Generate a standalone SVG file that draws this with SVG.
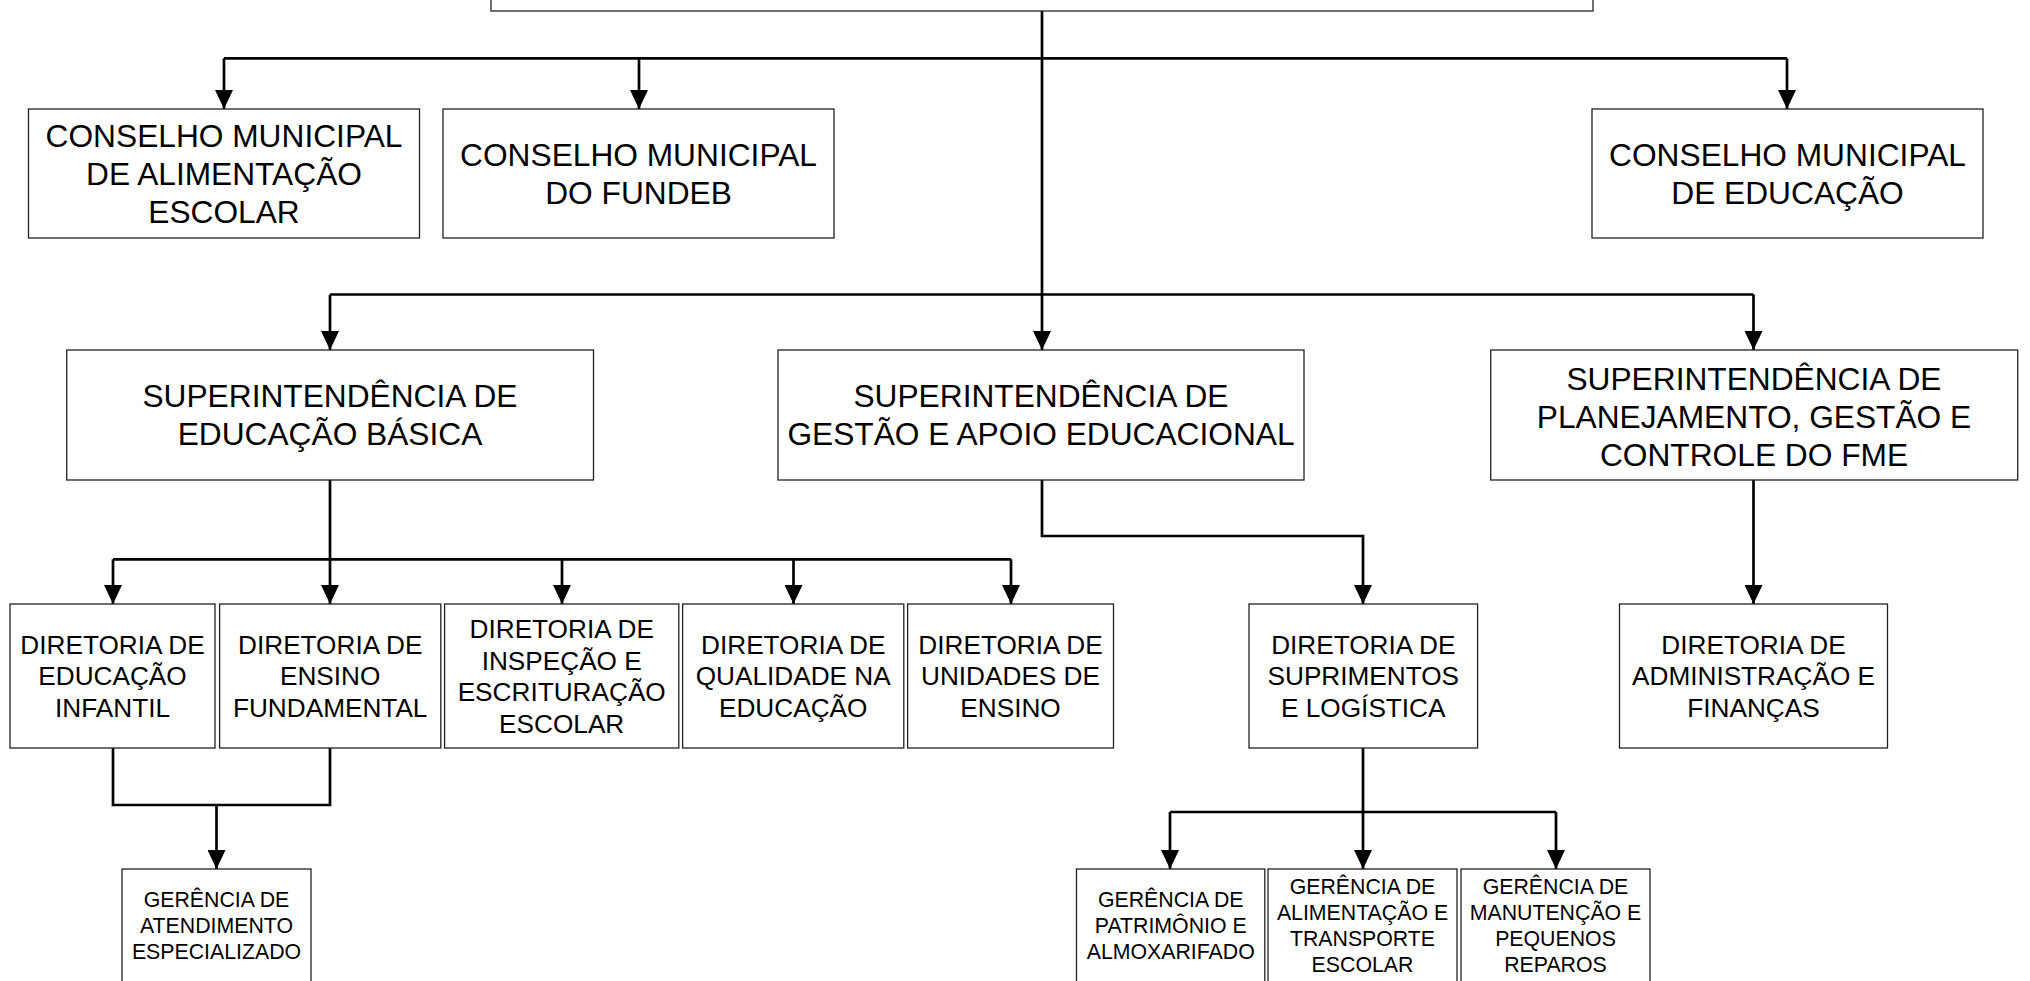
<svg xmlns="http://www.w3.org/2000/svg" width="2030" height="981" viewBox="0 0 2030 981">
<style>
.box{fill:#fff;stroke:#222;stroke-width:1.3}
.t1{font-family:"Liberation Sans",Arial,sans-serif;font-size:31.7px;fill:#000;text-anchor:middle}
.t3{font-family:"Liberation Sans",Arial,sans-serif;font-size:26.2px;fill:#000;text-anchor:middle}
.t4{font-family:"Liberation Sans",Arial,sans-serif;font-size:21.3px;fill:#000;text-anchor:middle}
.c{fill:none;stroke:#000;stroke-width:2.7}
.ca{fill:none;stroke:#000;stroke-width:2.7;marker-end:url(#arr)}
</style>
<defs>
<marker id="arr" markerUnits="userSpaceOnUse" markerWidth="20" markerHeight="18" refX="19" refY="9" orient="auto" viewBox="0 0 20 18">
<path d="M0,0 L19,9 L0,18 z" fill="#000"/>
</marker>
</defs>
<rect width="2030" height="981" fill="#fff"/>

<g id="connectors">
<path class="ca" d="M1042,11 V350"/>
<path class="c" d="M224,58.3 H1787"/>
<path class="ca" d="M224,58.3 V109"/>
<path class="ca" d="M639,58.3 V109"/>
<path class="ca" d="M1787,58.3 V109"/>
<path class="c" d="M330,294.5 H1753.5"/>
<path class="ca" d="M330,294.5 V350"/>
<path class="ca" d="M1753.5,294.5 V350"/>
<path class="ca" d="M330,480 V604"/>
<path class="c" d="M113,559.3 H1011"/>
<path class="ca" d="M113,559.3 V604"/>
<path class="ca" d="M562,559.3 V604"/>
<path class="ca" d="M793.5,559.3 V604"/>
<path class="ca" d="M1011,559.3 V604"/>
<path class="ca" d="M1042,480 V536 H1363 V604"/>
<path class="ca" d="M1753.5,480 V604"/>
<path class="c" d="M113,748 V805 H330 V748"/>
<path class="ca" d="M216.5,805 V869"/>
<path class="ca" d="M1363,748 V869"/>
<path class="c" d="M1170,812 H1556"/>
<path class="ca" d="M1170,812 V869"/>
<path class="ca" d="M1556,812 V869"/>
</g>

<g id="root"><rect class="box" x="491" y="-50" width="1102" height="61"/></g>

<g id="cmae"><rect class="box" x="28.5" y="109" width="391" height="129"/>
<text class="t1" x="224" y="146.7">CONSELHO MUNICIPAL</text>
<text class="t1" x="224" y="184.7">DE ALIMENTAÇÃO</text>
<text class="t1" x="224" y="222.7">ESCOLAR</text></g>

<g id="cmf"><rect class="box" x="443" y="109" width="391" height="129"/>
<text class="t1" x="638.5" y="165.8">CONSELHO MUNICIPAL</text>
<text class="t1" x="638.5" y="203.8">DO FUNDEB</text></g>

<g id="cme"><rect class="box" x="1592" y="109" width="391" height="129"/>
<text class="t1" x="1787.5" y="165.8">CONSELHO MUNICIPAL</text>
<text class="t1" x="1787.5" y="203.8">DE EDUCAÇÃO</text></g>

<g id="seb"><rect class="box" x="66.7" y="350" width="526.8" height="130"/>
<text class="t1" x="330" y="407.4">SUPERINTENDÊNCIA DE</text>
<text class="t1" x="330" y="445.4">EDUCAÇÃO BÁSICA</text></g>

<g id="sgae"><rect class="box" x="778" y="350" width="526" height="130"/>
<text class="t1" x="1041" y="407.4">SUPERINTENDÊNCIA DE</text>
<text class="t1" x="1041" y="445.4">GESTÃO E APOIO EDUCACIONAL</text></g>

<g id="spg"><rect class="box" x="1490.7" y="350" width="527" height="130"/>
<text class="t1" x="1754" y="390">SUPERINTENDÊNCIA DE</text>
<text class="t1" x="1754" y="428">PLANEJAMENTO, GESTÃO E</text>
<text class="t1" x="1754" y="466">CONTROLE DO FME</text></g>

<g id="dei"><rect class="box" x="10" y="604" width="205" height="144"/>
<text class="t3" x="112.5" y="653.9">DIRETORIA DE</text>
<text class="t3" x="112.5" y="685.4">EDUCAÇÃO</text>
<text class="t3" x="112.5" y="716.9">INFANTIL</text></g>

<g id="def"><rect class="box" x="219.6" y="604" width="221.2" height="144"/>
<text class="t3" x="330.2" y="653.9">DIRETORIA DE</text>
<text class="t3" x="330.2" y="685.4">ENSINO</text>
<text class="t3" x="330.2" y="716.9">FUNDAMENTAL</text></g>

<g id="diee"><rect class="box" x="444.6" y="604" width="234.2" height="144"/>
<text class="t3" x="561.7" y="638.2">DIRETORIA DE</text>
<text class="t3" x="561.7" y="669.7">INSPEÇÃO E</text>
<text class="t3" x="561.7" y="701.2">ESCRITURAÇÃO</text>
<text class="t3" x="561.7" y="732.7">ESCOLAR</text></g>

<g id="dqe"><rect class="box" x="682.6" y="604" width="221.2" height="144"/>
<text class="t3" x="793.2" y="653.9">DIRETORIA DE</text>
<text class="t3" x="793.2" y="685.4">QUALIDADE NA</text>
<text class="t3" x="793.2" y="716.9">EDUCAÇÃO</text></g>

<g id="due"><rect class="box" x="907.6" y="604" width="205.9" height="144"/>
<text class="t3" x="1010.5" y="653.9">DIRETORIA DE</text>
<text class="t3" x="1010.5" y="685.4">UNIDADES DE</text>
<text class="t3" x="1010.5" y="716.9">ENSINO</text></g>

<g id="dsl"><rect class="box" x="1249" y="604" width="228.6" height="144"/>
<text class="t3" x="1363.3" y="653.9">DIRETORIA DE</text>
<text class="t3" x="1363.3" y="685.4">SUPRIMENTOS</text>
<text class="t3" x="1363.3" y="716.9">E LOGÍSTICA</text></g>

<g id="daf"><rect class="box" x="1619.5" y="604" width="268" height="144"/>
<text class="t3" x="1753.5" y="653.9">DIRETORIA DE</text>
<text class="t3" x="1753.5" y="685.4">ADMINISTRAÇÃO E</text>
<text class="t3" x="1753.5" y="716.9">FINANÇAS</text></g>

<g id="gae"><rect class="box" x="122" y="869" width="189" height="130"/>
<text class="t4" x="216.5" y="907">GERÊNCIA DE</text>
<text class="t4" x="216.5" y="933">ATENDIMENTO</text>
<text class="t4" x="216.5" y="959">ESPECIALIZADO</text></g>

<g id="gpa"><rect class="box" x="1076.5" y="869" width="188.3" height="130"/>
<text class="t4" x="1170.7" y="907">GERÊNCIA DE</text>
<text class="t4" x="1170.7" y="933">PATRIMÔNIO E</text>
<text class="t4" x="1170.7" y="959">ALMOXARIFADO</text></g>

<g id="gate"><rect class="box" x="1268" y="869" width="189" height="130"/>
<text class="t4" x="1362.5" y="894">GERÊNCIA DE</text>
<text class="t4" x="1362.5" y="920">ALIMENTAÇÃO E</text>
<text class="t4" x="1362.5" y="946">TRANSPORTE</text>
<text class="t4" x="1362.5" y="972">ESCOLAR</text></g>

<g id="gmpr"><rect class="box" x="1461" y="869" width="189" height="130"/>
<text class="t4" x="1555.5" y="894">GERÊNCIA DE</text>
<text class="t4" x="1555.5" y="920">MANUTENÇÃO E</text>
<text class="t4" x="1555.5" y="946">PEQUENOS</text>
<text class="t4" x="1555.5" y="972">REPAROS</text></g>
</svg>
